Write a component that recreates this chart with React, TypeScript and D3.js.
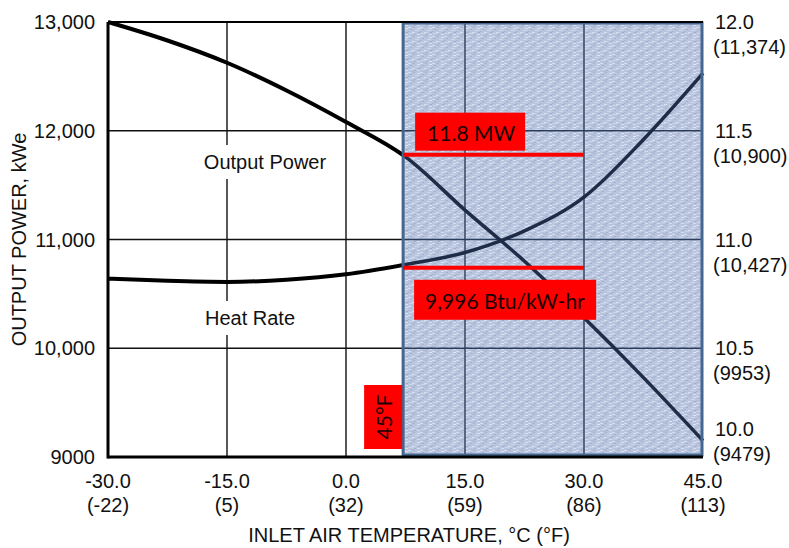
import React, { useEffect, useRef } from 'react';
import * as d3 from 'd3';

// inlet air temperature, degrees C
const tempC = [-30, -22.5, -15, -7.5, 0, 7.5, 15, 22.5, 30, 37.5, 45];
// output power, kWe (left axis)
const outputPower = [13000, 12830, 12625, 12370, 12080, 11760, 11270, 10800, 10280, 9730, 9150];
// heat rate, MJ/kWh (right axis)
const heatRate = [10.82, 10.81, 10.805, 10.815, 10.84, 10.885, 10.94, 11.04, 11.195, 11.46, 11.765];

const xTicks = [-30, -15, 0, 15, 30, 45];
const xTicksF = ['(-22)', '(5)', '(32)', '(59)', '(86)', '(113)'];
const leftTicks = [9000, 10000, 11000, 12000, 13000];
const rightTicks = [10.0, 10.5, 11.0, 11.5, 12.0];
const rightTicksBtu = ['(9479)', '(9953)', '(10,427)', '(10,900)', '(11,374)'];

// highlighted range, starting at 45°F
const shadeStart = 7.2;
const shadeEnd = 45;
const markPower = 11780;
const markHeatRate = 10.87;
const markEnd = 30;

const W = 789;
const H = 548;
const FONT = '"Liberation Sans", Arial, sans-serif';

// speckles for the paper-like texture of the shaded band: [x, y, w, colour]
const speckles: [number, number, number, string][] = [
    [0, 0, 3, '#d4dced'], [5, 0, 2, '#a6b4ce'], [9, 1, 3, '#dde4f1'],
    [2, 2, 2, '#a2b1cc'], [7, 3, 4, '#cfd8ea'], [0, 4, 2, '#aab8d2'],
    [4, 5, 3, '#d8e0ef'], [10, 5, 2, '#9fafcb'], [1, 6, 4, '#ccd5e8'],
    [6, 7, 2, '#a4b3ce'], [9, 7, 3, '#d6deee'], [3, 8, 3, '#adbad3'],
];

const App = () => {
    const ref = useRef<SVGSVGElement>(null);

    useEffect(() => {
        document.body.style.margin = '0';
        const svg = d3.select(ref.current);
        svg.selectAll('*').remove();

        const x = d3.scaleLinear().domain([-30, 45]).range([108, 703]);
        const yL = d3.scaleLinear().domain([9000, 13000]).range([457, 22]);
        const yR = d3.scaleLinear().domain([10, 12]).range([457, 22]);
        const x0 = x(shadeStart);

        const defs = svg.append('defs');
        const pat = defs.append('pattern')
            .attr('id', 'paper')
            .attr('patternUnits', 'userSpaceOnUse')
            .attr('width', 12)
            .attr('height', 9);
        pat.append('rect').attr('width', 12).attr('height', 9).attr('fill', '#b9c5de');
        speckles.forEach(([sx, sy, sw, c]) => {
            pat.append('rect').attr('x', sx).attr('y', sy).attr('width', sw).attr('height', 1).attr('fill', c);
        });

        defs.append('clipPath').attr('id', 'outside')
            .append('rect').attr('x', 0).attr('y', 0).attr('width', x0).attr('height', H);
        defs.append('clipPath').attr('id', 'inside')
            .append('rect').attr('x', x0).attr('y', 0).attr('width', W - x0).attr('height', H);

        svg.append('rect').attr('width', W).attr('height', H).attr('fill', '#fff');

        // shaded band
        svg.append('rect')
            .attr('x', x0).attr('y', yL(13000))
            .attr('width', x(shadeEnd) - x0).attr('height', yL(9000) - yL(13000) - 2)
            .attr('fill', 'url(#paper)');

        const powerLine = d3.line<number>()
            .x((d, i) => x(tempC[i]))
            .y(d => yL(d))
            .curve(d3.curveMonotoneX);
        const heatLine = d3.line<number>()
            .x((d, i) => x(tempC[i]))
            .y(d => yR(d))
            .curve(d3.curveMonotoneX);

        const drawLayer = (clip: string, gridColor: string, curveColor: string, curveWidth: number) => {
            const g = svg.append('g').attr('clip-path', `url(#${clip})`);
            g.selectAll('.vgrid')
                .data(xTicks.slice(1, -1))
                .enter()
                .append('line')
                .attr('x1', d => x(d)).attr('x2', d => x(d))
                .attr('y1', yL(13000)).attr('y2', yL(9000))
                .attr('stroke', gridColor).attr('stroke-width', 1.4);
            g.selectAll('.hgrid')
                .data(leftTicks.slice(1, -1))
                .enter()
                .append('line')
                .attr('x1', x(-30)).attr('x2', x(45))
                .attr('y1', d => yL(d)).attr('y2', d => yL(d))
                .attr('stroke', gridColor).attr('stroke-width', 1.4);
            g.append('path').attr('d', powerLine(outputPower))
                .attr('fill', 'none').attr('stroke', curveColor).attr('stroke-width', curveWidth);
            g.append('path').attr('d', heatLine(heatRate))
                .attr('fill', 'none').attr('stroke', curveColor).attr('stroke-width', curveWidth);
            return g;
        };
        drawLayer('outside', '#111', '#000', 4);
        drawLayer('inside', '#2c3d5b', '#1e2c47', 3.5);

        // curve labels on white
        const label = (txt: string, cx: number, cy: number, w: number) => {
            svg.append('rect').attr('x', cx - w / 2).attr('y', cy - 17).attr('width', w).attr('height', 34).attr('fill', '#fff');
            svg.append('text').attr('x', cx).attr('y', cy)
                .attr('text-anchor', 'middle').attr('dominant-baseline', 'central')
                .style('font-family', FONT).style('font-size', '20px').attr('fill', '#111')
                .text(txt);
        };
        label('Output Power', 265, 162, 128);
        label('Heat Rate', 250, 318, 104);

        // shaded band border
        svg.append('rect')
            .attr('x', x0).attr('y', yL(13000) + 1)
            .attr('width', x(shadeEnd) - x0 - 1).attr('height', yL(9000) - yL(13000) - 3)
            .attr('fill', 'none').attr('stroke', '#44668f').attr('stroke-width', 3);

        // axes frame
        svg.append('line').attr('x1', x(-30)).attr('x2', x(45)).attr('y1', yL(13000)).attr('y2', yL(13000))
            .attr('stroke', '#000').attr('stroke-width', 2);
        svg.append('line').attr('x1', x(-30)).attr('x2', x(-30)).attr('y1', yL(13000)).attr('y2', yL(9000) + 1.5)
            .attr('stroke', '#000').attr('stroke-width', 3);
        svg.append('line').attr('x1', x(-30)).attr('x2', x(45)).attr('y1', yL(9000)).attr('y2', yL(9000))
            .attr('stroke', '#000').attr('stroke-width', 3);

        // red annotations
        const red = '#ff0000';
        svg.append('line').attr('x1', x0).attr('x2', x(markEnd))
            .attr('y1', yL(markPower)).attr('y2', yL(markPower))
            .attr('stroke', red).attr('stroke-width', 4);
        svg.append('line').attr('x1', x0).attr('x2', x(markEnd))
            .attr('y1', yR(markHeatRate)).attr('y2', yR(markHeatRate))
            .attr('stroke', red).attr('stroke-width', 4);

        const boxFont = 'Lato, "Open Sans", sans-serif';
        const py = yL(markPower);
        svg.append('rect').attr('x', x0 + 12).attr('y', py - 42).attr('width', 110).attr('height', 38).attr('fill', red);
        svg.append('text').attr('x', x0 + 24).attr('y', py - 22)
            .attr('dominant-baseline', 'central')
            .style('font-family', boxFont).style('font-size', '21px').attr('fill', '#1a0000')
            .text('11.8 MW');

        const hy = yR(markHeatRate);
        svg.append('rect').attr('x', x0 + 11).attr('y', hy + 12).attr('width', 182).attr('height', 40).attr('fill', red);
        svg.append('text').attr('x', x0 + 22).attr('y', hy + 33)
            .attr('dominant-baseline', 'central')
            .style('font-family', boxFont).style('font-size', '21px').attr('fill', '#1a0000')
            .text('9,996 Btu/kW-hr');

        svg.append('rect').attr('x', x0 - 39).attr('y', 385).attr('width', 38).attr('height', 64).attr('fill', red);
        svg.append('text')
            .attr('transform', `translate(${x0 - 20},417) rotate(-90)`)
            .attr('text-anchor', 'middle').attr('dominant-baseline', 'central')
            .style('font-family', boxFont).style('font-size', '21px').attr('fill', '#1a0000')
            .text('45°F');

        // tick labels
        const txt = svg.append('g').style('font-family', FONT).style('font-size', '20px').attr('fill', '#111');
        txt.selectAll('.lt')
            .data(leftTicks)
            .enter()
            .append('text')
            .attr('x', 95).attr('y', d => yL(d))
            .attr('text-anchor', 'end').attr('dominant-baseline', 'central')
            .text(d => (d >= 10000 ? d3.format(',')(d) : String(d)));

        rightTicks.forEach((d, i) => {
            const off = i === 0 ? -28 : 0;
            txt.append('text').attr('x', 715).attr('y', yR(d) + off)
                .attr('dominant-baseline', 'central').text(d.toFixed(1));
            txt.append('text').attr('x', 713).attr('y', yR(d) + off + 25)
                .attr('dominant-baseline', 'central').text(rightTicksBtu[i]);
        });

        xTicks.forEach((d, i) => {
            txt.append('text').attr('x', x(d)).attr('y', 481)
                .attr('text-anchor', 'middle').attr('dominant-baseline', 'central')
                .text(d.toFixed(1));
            txt.append('text').attr('x', x(d)).attr('y', 505)
                .attr('text-anchor', 'middle').attr('dominant-baseline', 'central')
                .text(xTicksF[i]);
        });

        txt.append('text').attr('x', 409).attr('y', 535)
            .attr('text-anchor', 'middle').attr('dominant-baseline', 'central')
            .text('INLET AIR TEMPERATURE, °C (°F)');
        txt.append('text')
            .attr('transform', `translate(19,${(yL(13000) + yL(9000)) / 2}) rotate(-90)`)
            .attr('text-anchor', 'middle').attr('dominant-baseline', 'central')
            .text('OUTPUT POWER, kWe');
    }, []);

    return (
        <div>
            <svg ref={ref} width={W} height={H} style={{ display: 'block' }}></svg>
        </div>
    );
};

export default App;
